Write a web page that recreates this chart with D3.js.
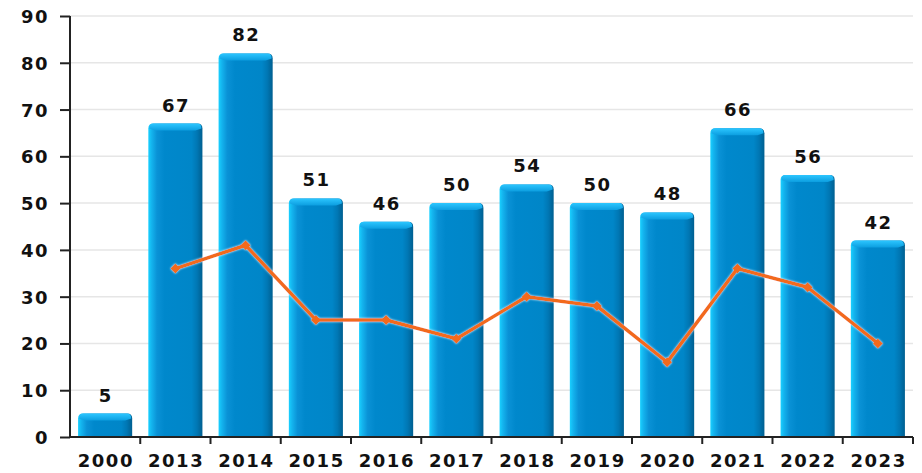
<!DOCTYPE html>
<html>
<head>
<meta charset="utf-8">
<script src="https://cdn.jsdelivr.net/npm/d3@7"></script>
<style>
  html, body { margin: 0; padding: 0; background: #fff; }
  svg text { font-family: "DejaVu Sans", sans-serif; font-weight: bold; fill: #111; letter-spacing: 1.5px; }
</style>
</head>
<body>
<svg id="chart" width="922" height="473"></svg>
<script>
const years = ["2000", "2013", "2014", "2015", "2016", "2017", "2018", "2019", "2020", "2021", "2022", "2023"];
const barValues = [5, 67, 82, 51, 46, 50, 54, 50, 48, 66, 56, 42];
const lineValues = [null, 36, 41, 25, 25, 21, 30, 28, 16, 36, 32, 20];
const yTicks = [0, 10, 20, 30, 40, 50, 60, 70, 80, 90];

const svg = d3.select("#chart");
const plotLeft = 70, plotRight = 913, plotTop = 16, plotBottom = 437;

const x = d3.scaleBand().domain(years).range([plotLeft, plotRight]).paddingInner(0.23).paddingOuter(0.115);
const xEdge = d3.scaleBand().domain(years).range([plotLeft, plotRight]).padding(0);
const y = d3.scaleLinear().domain([0, 90]).range([plotBottom, plotTop]);

const defs = svg.append("defs");
const body = defs.append("linearGradient").attr("id", "barBody").attr("x1", 0).attr("x2", 1).attr("y1", 0).attr("y2", 0);
[[0, "#19d0ff"], [0.06, "#14b4ee"], [0.16, "#0a92d6"], [0.3, "#0088cc"], [0.8, "#0086c8"], [0.9, "#0077b4"], [1, "#005f90"]]
  .forEach(([o, c]) => body.append("stop").attr("offset", o).attr("stop-color", c));
const cap = defs.append("linearGradient").attr("id", "barCap").attr("x1", 0).attr("x2", 0).attr("y1", 0).attr("y2", 1);
[[0, "#2cc6ff"], [1, "#0c9ee0"]].forEach(([o, c]) => cap.append("stop").attr("offset", o).attr("stop-color", c));
const glow = defs.append("filter").attr("id", "lineGlow").attr("x", "-10%").attr("y", "-20%").attr("width", "120%").attr("height", "140%");
glow.append("feGaussianBlur").attr("in", "SourceAlpha").attr("stdDeviation", 1.3).attr("result", "b");
glow.append("feFlood").attr("flood-color", "#fff").attr("flood-opacity", 0.9);
glow.append("feComposite").attr("in2", "b").attr("operator", "in").attr("result", "w");
const m = glow.append("feMerge");
m.append("feMergeNode").attr("in", "w");
m.append("feMergeNode").attr("in", "SourceGraphic");

// grid
svg.append("g").selectAll("line").data(yTicks.filter(d => d > 0)).join("line")
  .attr("x1", plotLeft).attr("x2", plotRight).attr("y1", d => y(d)).attr("y2", d => y(d))
  .attr("stroke", "#e6e6e6").attr("stroke-width", 1.5);

// bars
const bars = svg.append("g").selectAll("g").data(years).join("g");
const r = 5;
bars.append("path")
  .attr("d", (d, i) => {
    const x0 = x(d), x1 = x0 + x.bandwidth(), t = y(barValues[i]), b = y(0);
    return `M${x0},${b}V${t + r}Q${x0},${t} ${x0 + r},${t}H${x1 - r}Q${x1},${t} ${x1},${t + r}V${b}Z`;
  })
  .attr("fill", "url(#barBody)");
bars.append("path")
  .attr("d", (d, i) => {
    const x0 = x(d), x1 = x0 + x.bandwidth(), t = y(barValues[i]);
    return `M${x0 + 1},${t + r}Q${x0 + 1},${t} ${x0 + r},${t}H${x1 - r}Q${x1 - 1},${t} ${x1 - 1},${t + r}L${x1 - 7},${t + 7}H${x0 + 7}Z`;
  })
  .attr("fill", "url(#barCap)");
bars.append("text")
  .attr("x", d => x(d) + x.bandwidth() / 2 + 0.75)
  .attr("y", (d, i) => y(barValues[i]) - 12)
  .attr("text-anchor", "middle").attr("font-size", 18)
  .text((d, i) => barValues[i]);

// line
const pts = years.map((d, i) => ({ d, v: lineValues[i] })).filter(p => p.v != null);
const line = d3.line().x(p => x(p.d) + x.bandwidth() / 2).y(p => y(p.v));
const lg = svg.append("g").attr("filter", "url(#lineGlow)");
lg.append("path").datum(pts).attr("d", line).attr("fill", "none")
  .attr("stroke", "#f26a1b").attr("stroke-width", 3.6).attr("stroke-linejoin", "round");
lg.selectAll("path.mk").data(pts).join("path").attr("class", "mk")
  .attr("transform", p => `translate(${x(p.d) + x.bandwidth() / 2},${y(p.v)}) rotate(45)`)
  .attr("d", d3.symbol(d3.symbolSquare, 50))
  .attr("fill", "#f26a1b");

// axes
const yAxis = svg.append("g").attr("transform", `translate(${plotLeft},0)`)
  .call(d3.axisLeft(y).tickValues(yTicks).tickSize(10).tickPadding(11));
yAxis.select(".domain").attr("stroke", "#222").attr("stroke-width", 2).attr("d", `M0,${plotTop}V${plotBottom}`);
yAxis.selectAll(".tick line").attr("stroke", "#222").attr("stroke-width", 2);
yAxis.selectAll(".tick text").attr("font-size", 18).attr("font-family", "DejaVu Sans").attr("font-weight", "bold").attr("fill", "#111").attr("dy", "0.36em");

const xg = svg.append("g").attr("transform", `translate(0,${plotBottom})`);
xg.append("line").attr("x1", plotLeft).attr("x2", plotRight).attr("stroke", "#222").attr("stroke-width", 2);
xg.selectAll("line.tk").data(years).join("line").attr("class", "tk")
  .attr("x1", d => xEdge(d) + xEdge.bandwidth()).attr("x2", d => xEdge(d) + xEdge.bandwidth())
  .attr("y1", 0).attr("y2", 7).attr("stroke", "#222").attr("stroke-width", 2);
xg.selectAll("text").data(years).join("text")
  .attr("x", d => xEdge(d) + xEdge.bandwidth() / 2 + 0.75).attr("y", 30)
  .attr("text-anchor", "middle").attr("font-size", 18).text(d => d);
</script>
</body>
</html>
